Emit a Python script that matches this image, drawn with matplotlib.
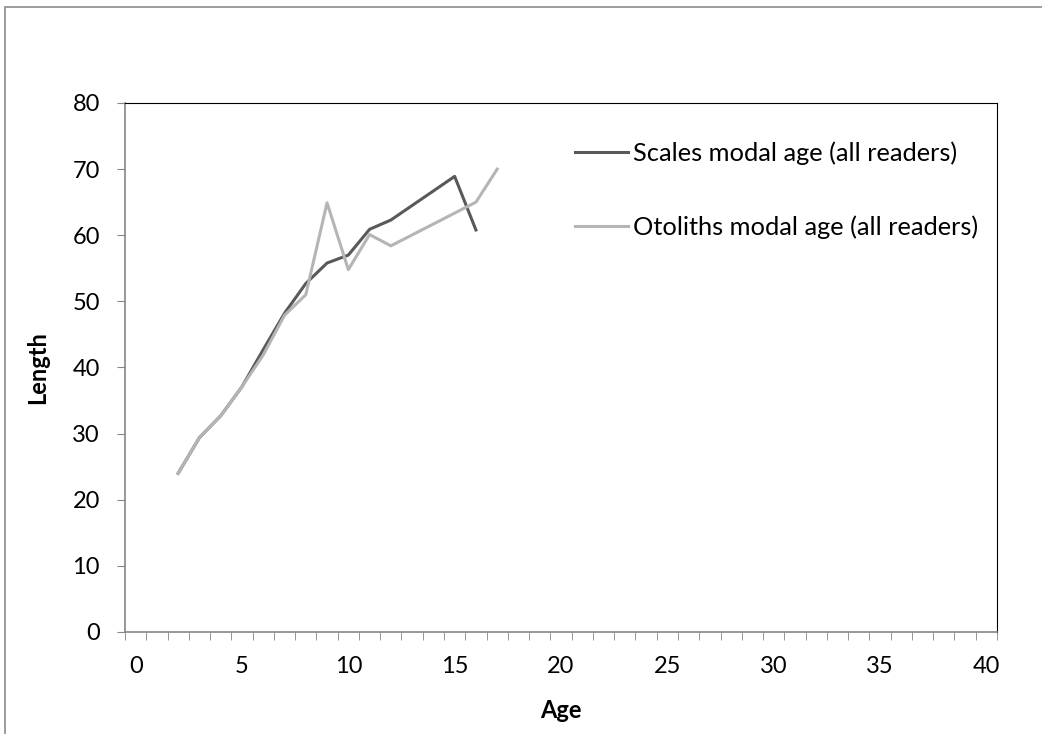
import numpy as np
import matplotlib
matplotlib.use('Agg')
import matplotlib.pyplot as plt
from matplotlib.patches import Rectangle

plt.rcParams['font.family'] = ['Lato', 'DejaVu Sans']

# dati
eta_scales = [2, 3, 4, 5, 6, 7, 8, 9, 10, 11, 12, 15, 16]
len_scales = [24, 29.4, 32.7, 37.1, 42.7, 48.2, 52.7, 55.8, 57.0, 60.9, 62.3, 68.9, 60.8]

eta_oto = [2, 3, 4, 5, 6, 7, 8, 9, 10, 11, 12, 16, 17]
len_oto = [24, 29.4, 32.7, 37.1, 41.9, 47.9, 51.0, 64.9, 54.8, 60.1, 58.4, 65.0, 70.0]

label_scales = 'Scales modal age (all readers)'
label_oto = 'Otoliths modal age (all readers)'

fig = plt.figure(figsize=(10.42, 7.34), dpi=100)
ax = fig.add_axes([125/1042, 1-632/734, 872/1042, 529/734])

# bordo esterno
fig.patches.append(Rectangle((5/1042, -0.05), 1.2, 1.05-7/734, transform=fig.transFigure,
                             fill=False, edgecolor='#8c8c8c', linewidth=1.2))

ax.plot(eta_scales, len_scales, color='#595959', lw=2.2, label=label_scales)
ax.plot(eta_oto, len_oto, color='#b5b5b5', lw=2.2, label=label_oto)

ax.set_xlim(-0.5, 40.5)
ax.set_ylim(0, 80)
ax.set_xticks(np.arange(0, 41, 5))
ax.set_xticks(np.arange(-0.5, 41, 1), minor=True)
ax.set_yticks(np.arange(0, 81, 10))
ax.tick_params(axis='x', which='major', length=0, labelsize=17, pad=17)
ax.tick_params(axis='x', which='minor', length=6, color='#868686', direction='out')
ax.tick_params(axis='y', length=6, color='#868686', labelsize=17, pad=12)

for s in ['top', 'right']:
    ax.spines[s].set_color('black')
    ax.spines[s].set_linewidth(0.8)
for s in ['left', 'bottom']:
    ax.spines[s].set_color('#868686')
    ax.spines[s].set_linewidth(1.2)

ax.set_xlabel('Age', fontsize=17, fontweight='bold', labelpad=16)
ax.set_ylabel('Length', fontsize=17, fontweight='bold', labelpad=17)

ax.legend(loc='upper left', bbox_to_anchor=(450/872, 1-38/529), frameon=False,
          fontsize=18.3, handlelength=2.1, handletextpad=0.2, labelspacing=2.0,
          borderaxespad=0, borderpad=0)

plt.savefig('out.png', dpi=100)
